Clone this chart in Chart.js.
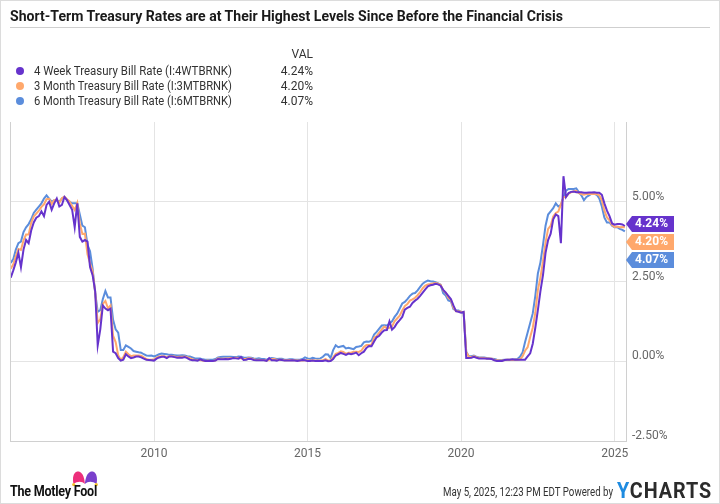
<!DOCTYPE html>
<html><head><meta charset="utf-8">
<script src="https://cdn.jsdelivr.net/npm/chart.js@4.4.1/dist/chart.umd.min.js"></script>
<style>
html,body{margin:0;padding:0;background:#fff;}
#wrap{position:relative;width:720px;height:504px;overflow:hidden;font-family:Roboto,"Noto Sans",sans-serif;background:#fff;}
#frame{position:absolute;left:0;top:0;width:720px;height:504px;box-sizing:border-box;border:1px solid #dcdcdc;pointer-events:none;}
canvas{position:absolute;left:0;top:0;}
.t{position:absolute;white-space:nowrap;transform-origin:0 50%;}
.dot{position:absolute;width:8px;height:8px;border-radius:50%;}
</style></head>
<body>
<div id="wrap">
<canvas id="c" width="720" height="504"></canvas>
<div class="t" id="title" data-w="553" style="left:10px;top:8px;font-size:14px;line-height:16px;font-weight:700;color:#1a1a1a;">Short-Term Treasury Rates are at Their Highest Levels Since Before the Financial Crisis</div>
<div style="position:absolute;left:10px;top:27px;width:700px;height:1px;background:#cfcfcf;"></div>
<div id="legend"></div>
<svg style="position:absolute;left:72px;top:471px;" width="26" height="16" viewBox="0 0 26 16">
<path d="M1.5,13 C-0.5,3 4,-1 8,1 C11,2.5 12.5,7 12.9,13 C10,10 5.5,10 1.5,13 Z" fill="#ec2f7b"/>
<path d="M12.9,13 C13.5,7 15,2.5 18,1 C22,-1 26.5,3 24.5,13 C20.5,10 16,10 12.9,13 Z" fill="#7a40cc"/>
<circle cx="1.7" cy="13.6" r="1.6" fill="#f6c12b"/>
<circle cx="24.3" cy="13.6" r="1.6" fill="#f6c12b"/>
</svg>
<div class="t" data-w="87" style="left:10px;top:483px;font-size:15px;line-height:16px;font-weight:700;color:#111;letter-spacing:-0.3px;">The Motley Fool</div>
<div class="t" data-w="170" style="left:443px;top:484px;font-size:12px;line-height:16px;color:#333;">May 5, 2025, 12:23 PM EDT Powered by</div>
<div class="t" data-w="95" style="left:617px;top:479px;font-size:22px;line-height:24px;font-weight:700;color:#2b2b2b;letter-spacing:1px;"><span style="color:#1e8be0">Y</span>CHARTS</div>
<div id="frame"></div>
</div>
<script>
// ---- Data (monthly readings, May 2005 .. May 2025) ----
const seriesNames = [
  "4 Week Treasury Bill Rate (I:4WTBRNK)",
  "3 Month Treasury Bill Rate (I:3MTBRNK)",
  "6 Month Treasury Bill Rate (I:6MTBRNK)"
];
const lastValues = [4.24, 4.20, 4.07];
const seriesColors = ["#6633cc", "#ffa86c", "#5b8ddc"];

const week4 = [
  2.62,2.85,3.10,3.40,2.95,3.50,3.80,3.70,
  4.10,4.35,4.50,4.55,4.70,4.55,4.90,5.00,4.75,4.95,5.10,4.85,
  4.90,5.15,5.05,4.90,4.75,4.20,4.95,3.90,3.75,3.80,3.75,2.95,
  2.70,2.20,0.50,1.00,1.75,1.65,1.60,1.65,0.30,0.25,0.10,0.02,
  0.05,0.22,0.15,0.10,0.12,0.15,0.15,0.12,0.08,0.05,0.04,0.03,
  0.02,0.08,0.12,0.14,0.14,0.10,0.15,0.15,0.13,0.11,0.12,0.11,
  0.13,0.10,0.05,0.03,0.03,0.02,0.06,0.03,0.01,0.01,0.01,0.01,
  0.02,0.07,0.06,0.06,0.07,0.06,0.08,0.10,0.09,0.08,0.13,0.04,
  0.05,0.08,0.07,0.04,0.03,0.03,0.03,0.03,0.01,0.10,0.03,0.03,
  0.02,0.05,0.04,0.02,0.02,0.02,0.03,0.02,0.01,0.02,0.04,0.03,
  0.01,0.01,0.02,0.01,0.01,0.01,0.01,0.03,0.00,0.01,0.07,0.18,
  0.22,0.26,0.23,0.20,0.24,0.22,0.24,0.27,0.19,0.25,0.30,0.42,
  0.48,0.47,0.62,0.75,0.80,0.90,0.97,0.98,1.25,0.99,1.07,1.20,
  1.29,1.39,1.62,1.67,1.71,1.83,1.90,1.96,2.05,2.15,2.25,2.35,
  2.38,2.40,2.43,2.41,2.37,2.24,2.15,2.05,1.95,1.75,1.57,1.55,
  1.52,1.55,0.10,0.10,0.11,0.14,0.11,0.09,0.09,0.09,0.08,0.08,
  0.07,0.03,0.01,0.01,0.01,0.04,0.05,0.05,0.06,0.05,0.05,0.05,
  0.05,0.05,0.15,0.25,0.55,1.05,1.60,2.20,2.70,3.40,3.80,4.00,
  4.45,4.60,4.55,3.70,5.80,5.15,5.27,5.31,5.32,5.30,5.30,5.30,
  5.28,5.28,5.29,5.29,5.30,5.28,5.28,5.22,4.95,4.72,4.55,4.32,
  4.28,4.30,4.30,4.29,4.24
];
const month3 = [
  2.90,3.04,3.29,3.52,3.49,3.79,3.97,3.97,
  4.34,4.54,4.63,4.72,4.84,4.92,5.08,5.09,4.93,5.05,5.07,4.97,
  5.11,5.16,5.08,5.01,4.87,4.74,4.96,4.32,3.99,4.00,3.35,3.07,
  2.82,2.17,1.20,1.31,1.80,1.89,1.66,1.75,0.80,0.60,0.19,0.05,
  0.13,0.30,0.22,0.16,0.18,0.18,0.18,0.17,0.12,0.07,0.05,0.05,
  0.06,0.11,0.15,0.16,0.16,0.12,0.16,0.16,0.15,0.13,0.14,0.14,
  0.15,0.13,0.10,0.06,0.04,0.04,0.04,0.02,0.01,0.02,0.01,0.01,
  0.03,0.09,0.08,0.08,0.09,0.09,0.10,0.10,0.11,0.10,0.09,0.07,
  0.07,0.10,0.09,0.06,0.04,0.05,0.04,0.04,0.02,0.05,0.07,0.07,
  0.04,0.05,0.05,0.03,0.03,0.04,0.03,0.03,0.02,0.02,0.02,0.03,
  0.03,0.02,0.03,0.02,0.02,0.02,0.03,0.07,0.02,0.02,0.12,0.23,
  0.26,0.31,0.29,0.23,0.27,0.27,0.30,0.30,0.29,0.33,0.45,0.51,
  0.51,0.52,0.74,0.79,0.90,1.00,1.09,1.03,1.05,1.09,1.25,1.34,
  1.43,1.59,1.73,1.79,1.90,1.94,1.99,2.07,2.17,2.29,2.37,2.41,
  2.42,2.44,2.45,2.43,2.40,2.22,2.15,1.99,1.93,1.68,1.57,1.57,
  1.55,1.54,0.29,0.14,0.13,0.16,0.13,0.10,0.11,0.10,0.09,0.09,
  0.08,0.04,0.03,0.02,0.02,0.04,0.05,0.05,0.04,0.05,0.05,0.06,
  0.15,0.33,0.44,0.76,1.05,1.52,2.23,2.63,3.13,3.72,4.15,4.25,
  4.54,4.65,4.69,4.92,5.14,5.16,5.25,5.30,5.32,5.34,5.27,5.24,
  5.22,5.24,5.24,5.24,5.25,5.24,5.20,5.05,4.72,4.51,4.42,4.27,
  4.21,4.22,4.20,4.21,4.20
];
const month6 = [
  3.08,3.20,3.50,3.70,3.75,4.05,4.20,4.30,
  4.45,4.65,4.75,4.85,4.95,5.10,5.20,5.10,5.00,5.05,5.05,5.00,
  5.10,5.15,5.05,5.00,4.95,4.95,4.95,4.60,4.25,4.20,3.65,3.45,
  2.90,2.15,1.55,1.60,1.95,2.20,2.00,2.00,1.30,1.00,0.90,0.35,
  0.35,0.50,0.45,0.40,0.32,0.30,0.28,0.27,0.22,0.18,0.17,0.18,
  0.15,0.18,0.22,0.24,0.23,0.22,0.20,0.20,0.19,0.18,0.18,0.19,
  0.18,0.16,0.15,0.12,0.09,0.09,0.09,0.06,0.05,0.05,0.05,0.05,
  0.07,0.12,0.13,0.14,0.14,0.14,0.14,0.13,0.13,0.15,0.14,0.12,
  0.11,0.12,0.11,0.09,0.08,0.09,0.07,0.07,0.05,0.08,0.10,0.09,
  0.07,0.08,0.08,0.05,0.05,0.06,0.06,0.05,0.05,0.05,0.07,0.12,
  0.09,0.07,0.11,0.09,0.08,0.09,0.14,0.22,0.21,0.10,0.35,0.50,
  0.44,0.46,0.48,0.40,0.42,0.40,0.38,0.45,0.46,0.48,0.59,0.62,
  0.61,0.65,0.84,0.92,1.02,1.12,1.13,1.12,1.18,1.25,1.39,1.49,
  1.65,1.81,1.86,1.95,2.05,2.12,2.14,2.22,2.33,2.43,2.49,2.53,
  2.51,2.50,2.48,2.44,2.40,2.13,2.06,1.91,1.88,1.64,1.60,1.59,
  1.55,1.50,0.30,0.16,0.16,0.18,0.14,0.12,0.12,0.12,0.10,0.09,
  0.08,0.07,0.05,0.04,0.04,0.05,0.05,0.05,0.05,0.06,0.07,0.14,
  0.27,0.60,0.90,1.20,1.50,2.05,2.75,3.10,3.65,4.25,4.60,4.70,
  4.80,4.95,4.85,4.90,5.15,5.35,5.40,5.40,5.40,5.42,5.30,5.20,
  5.05,5.15,5.20,5.25,5.25,5.22,5.10,4.85,4.50,4.35,4.35,4.25,
  4.20,4.20,4.15,4.12,4.07
];
const xTickYears = [2010, 2015, 2020, 2025];
const yTickValues = [-2.5, 0, 2.5, 5];

// month positions (decimal years), starting May 2005
const startYear = 2005, startMonth = 4;
const dates = week4.map((_, i) => startYear + (startMonth + i) / 12);
const toPoints = vals => vals.map((v, i) => ({x: dates[i], y: v}));

// ---- Legend (HTML) ----
const legend = document.getElementById('legend');
const vh = document.createElement('div');
vh.className = 't'; vh.textContent = 'VAL';
vh.style.cssText = 'left:263px;top:46px;width:50px;text-align:right;font-size:12px;line-height:16px;color:#333;';
legend.appendChild(vh);
seriesNames.forEach((name, i) => {
  const cy = 70.5 + i * 15.3;
  const d = document.createElement('div'); d.className = 'dot';
  d.style.cssText = `left:16px;top:${cy-4}px;background:${seriesColors[i]};`;
  legend.appendChild(d);
  const t = document.createElement('div'); t.className = 't'; t.textContent = name;
  t.dataset.w = '198';
  t.style.cssText = `left:34px;top:${cy-8}px;font-size:12px;line-height:16px;color:#333;`;
  legend.appendChild(t);
  const v = document.createElement('div'); v.className = 't'; v.textContent = lastValues[i].toFixed(2) + '%';
  v.style.cssText = `left:253px;top:${cy-8}px;width:60px;text-align:right;font-size:12px;line-height:16px;color:#333;`;
  legend.appendChild(v);
});
function fitTexts(){
  document.querySelectorAll('[data-w]').forEach(el => {
    el.style.transform = 'none';
    const w = el.getBoundingClientRect().width;
    const target = parseFloat(el.dataset.w);
    if (w > 0) el.style.transform = `scaleX(${target / w})`;
  });
}

// ---- Chart ----
Chart.defaults.font.family = 'Roboto';
const tagPlugin = {
  id: 'tags',
  afterDraw(chart){
    const {ctx, chartArea, scales} = chart;
    const x0 = chartArea.right;
    ctx.save();
    // left border of plot
    ctx.strokeStyle = '#d0d0d0'; ctx.lineWidth = 1;
    ctx.beginPath(); ctx.moveTo(chartArea.left + 0.5, chartArea.top); ctx.lineTo(chartArea.left + 0.5, chartArea.bottom); ctx.stroke();
    let cy = scales.y.getPixelForValue(lastValues[0]) - 2;
    lastValues.forEach((v, i) => {
      if (i > 0) cy += 18;
      ctx.fillStyle = seriesColors[i];
      ctx.beginPath();
      ctx.moveTo(x0, cy);
      ctx.lineTo(x0 + 6, cy - 8);
      ctx.lineTo(x0 + 48, cy - 8);
      ctx.lineTo(x0 + 48, cy + 8);
      ctx.lineTo(x0 + 6, cy + 8);
      ctx.closePath(); ctx.fill();
      ctx.fillStyle = '#fff';
      ctx.font = 'bold 12px Roboto';
      ctx.textAlign = 'left'; ctx.textBaseline = 'middle';
      ctx.fillText(v.toFixed(2) + '%', x0 + 9, cy + 0.5);
    });
    ctx.restore();
  }
};

function draw(){
  fitTexts();
  new Chart(document.getElementById('c'), {
    type: 'line',
    data: {
      datasets: [week4, month3, month6].map((vals, i) => ({
        label: seriesNames[i],
        data: toPoints(vals),
        borderColor: seriesColors[i],
        backgroundColor: seriesColors[i],
        borderWidth: 2,
        pointRadius: 0,
        tension: 0,
        fill: false
      }))
    },
    options: {
      responsive: false,
      animation: false,
      layout: {padding: {left: 10, top: 122, right: 0, bottom: 0}},
      plugins: {legend: {display: false}, tooltip: {enabled: false}},
      scales: {
        x: {
          type: 'linear', min: 2005.31, max: 2025.37,
          afterBuildTicks: s => { s.ticks = xTickYears.map(v => ({value: v})); },
          afterFit: s => { s.height = 63; },
          ticks: {callback: v => String(v), color: '#666', font: {size: 12}, padding: 6, maxRotation: 0, autoSkip: false},
          grid: {color: '#e4e4e4', drawTicks: false},
          border: {display: true, color: '#d0d0d0'}
        },
        y: {
          position: 'right', min: -2.5, max: 7.5,
          afterBuildTicks: s => { s.ticks = yTickValues.map(v => ({value: v})); },
          afterFit: s => { s.width = 94; },
          ticks: {callback: v => v.toFixed(2) + '%', color: '#666', font: {size: 12}, padding: 6, labelOffset: -5},
          grid: {color: '#e4e4e4', drawTicks: false},
          border: {display: true, color: '#d0d0d0'}
        }
      }
    },
    plugins: [tagPlugin]
  });
}
if (document.fonts && document.fonts.ready) document.fonts.ready.then(draw); else draw();
</script>
</body></html>
